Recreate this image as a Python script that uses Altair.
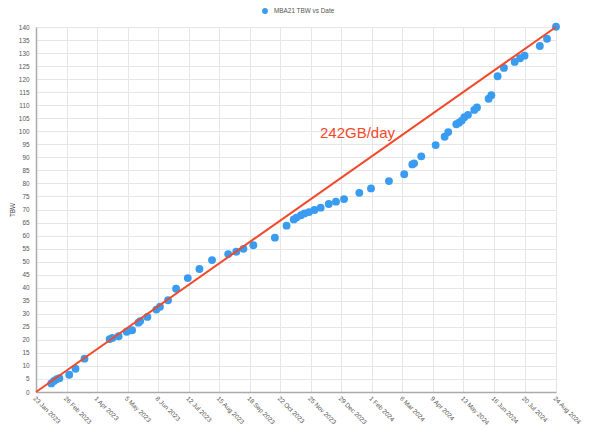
import altair as alt
import pandas as pd

# Observed data points (date, TBW in TB)
dates = [
    "2023-02-09", "2023-02-12", "2023-02-15", "2023-02-18", "2023-03-01", "2023-03-08",
    "2023-03-18", "2023-04-15", "2023-04-18", "2023-04-25", "2023-05-04", "2023-05-10",
    "2023-05-17", "2023-05-19", "2023-05-27", "2023-06-06", "2023-06-10", "2023-06-19",
    "2023-06-28", "2023-07-11", "2023-07-24", "2023-08-07", "2023-08-25", "2023-09-03",
    "2023-09-11", "2023-09-22", "2023-10-16", "2023-10-29", "2023-11-06", "2023-11-09",
    "2023-11-14", "2023-11-18", "2023-11-23", "2023-11-29", "2023-12-06", "2023-12-15",
    "2023-12-23", "2024-01-01", "2024-01-18", "2024-01-31", "2024-02-20", "2024-03-08",
    "2024-03-17", "2024-03-19", "2024-03-27", "2024-04-12", "2024-04-22", "2024-04-26",
    "2024-05-05", "2024-05-08", "2024-05-11", "2024-05-14", "2024-05-18", "2024-05-25",
    "2024-05-28", "2024-06-10", "2024-06-13", "2024-06-20", "2024-06-27", "2024-07-09",
    "2024-07-15", "2024-07-20", "2024-08-06", "2024-08-14", "2024-08-24",
]
tbw = [
    3.3, 4.2, 4.9, 5.3, 6.6, 8.9,
    12.8, 20.3, 20.7, 21.4, 23.1, 23.7,
    26.6, 27.2, 28.8, 31.6, 32.7, 35.2,
    39.6, 43.7, 47.2, 50.6, 52.9, 53.8,
    54.9, 56.3, 59.2, 63.8, 66.2, 66.9,
    67.8, 68.5, 69.0, 69.8, 70.7, 72.1,
    73.0, 74.0, 76.4, 78.1, 80.9, 83.5,
    87.3, 87.7, 90.4, 94.7, 97.9, 99.7,
    102.7, 103.3, 104.1, 105.4, 106.3, 108.2,
    109.1, 112.5, 113.8, 121.1, 124.3, 126.6,
    128.0, 129.0, 132.7, 135.5, 140.1,
]
series_name = "MBA21 TBW vs Date"

# Trend line: 242 GB/day
trend_dates = ["2023-01-23", "2024-08-24"]
trend_vals = [0, 140]

# Annotation
note_text = ["242GB/day"]
note_date = ["2024-01-16"]
note_val = [99.3]

# Axis ticks (every 34 days)
tick_dates = [
    (2023, 1, 23), (2023, 2, 26), (2023, 4, 1), (2023, 5, 5), (2023, 6, 8), (2023, 7, 12),
    (2023, 8, 15), (2023, 9, 18), (2023, 10, 22), (2023, 11, 25), (2023, 12, 29),
    (2024, 2, 1), (2024, 3, 6), (2024, 4, 9), (2024, 5, 13), (2024, 6, 16),
    (2024, 7, 20), (2024, 8, 24),
]
y_ticks = list(range(0, 145, 5))

pts = pd.DataFrame({"date": dates, "tbw": tbw, "series": [series_name] * len(dates)})
trend = pd.DataFrame({"date": trend_dates, "tbw": trend_vals})
note = pd.DataFrame({"date": note_date, "tbw": note_val, "text": note_text})

FONT = "Liberation Sans"
BLUE = "#3a9cf1"
RED = "#f2492a"
FS = 6.4

def dt(t):
    return alt.DateTime(year=t[0], month=t[1], date=t[2], utc=True)

x_scale = alt.Scale(type="utc", domain=[dt(tick_dates[0]), dt(tick_dates[-1])], nice=False)
y_scale = alt.Scale(domain=[0, 140], nice=False)

x_axis = alt.Axis(
    values=[dt(t) for t in tick_dates],
    labelExpr="utcFormat(datum.value, '%-d %b %Y')",
    labelAngle=45, labelAlign="left", labelBaseline="top",
    labelFontSize=FS, labelColor="#555555", labelFont=FONT, labelPadding=3,
    ticks=False, grid=True, gridColor="#e6e6e6", labelOverlap=False,
    domainColor="#aaaaaa", domainWidth=1.5, title=None,
)
y_axis = alt.Axis(
    values=y_ticks, labelFontSize=FS, labelColor="#555555", labelFont=FONT,
    ticks=False, grid=True, gridColor="#e6e6e6", labelPadding=7, labelOverlap=False,
    domainColor="#aaaaaa", domainWidth=1.5, title="TBW", titleFontSize=FS,
    titleFont=FONT, titleFontWeight="normal", titleColor="#444444", titlePadding=3,
)

x_enc = alt.X("date:T", scale=x_scale, axis=x_axis)
y_enc = alt.Y("tbw:Q", scale=y_scale, axis=y_axis)

points = alt.Chart(pts).mark_circle(size=62, opacity=1).encode(
    x=x_enc,
    y=y_enc,
    color=alt.Color(
        "series:N",
        scale=alt.Scale(range=[BLUE]),
        title=None,
        legend=alt.Legend(
            orient="none", legendX=225, legendY=-20, padding=0,
            symbolType="circle", symbolSize=34, labelFontSize=FS,
            labelColor="#555555", labelFont=FONT, labelOffset=5,
        ),
    ),
)

line = alt.Chart(trend).mark_line(color=RED, strokeWidth=2).encode(
    x=x_enc,
    y=y_enc,
)

label = alt.Chart(note).mark_text(
    color=RED, fontSize=15, font=FONT, align="center", baseline="middle"
).encode(
    x=x_enc,
    y=y_enc,
    text="text:N",
)

chart = alt.layer(points, line, label).properties(
    width=520, height=365,
    autosize=alt.AutoSizeParams(type="none"),
    padding={"left": 28, "top": 19, "right": 36, "bottom": 33},
).configure_view(stroke=None)

chart.save("out.html", embed_options={"renderer": "svg", "actions": False})
